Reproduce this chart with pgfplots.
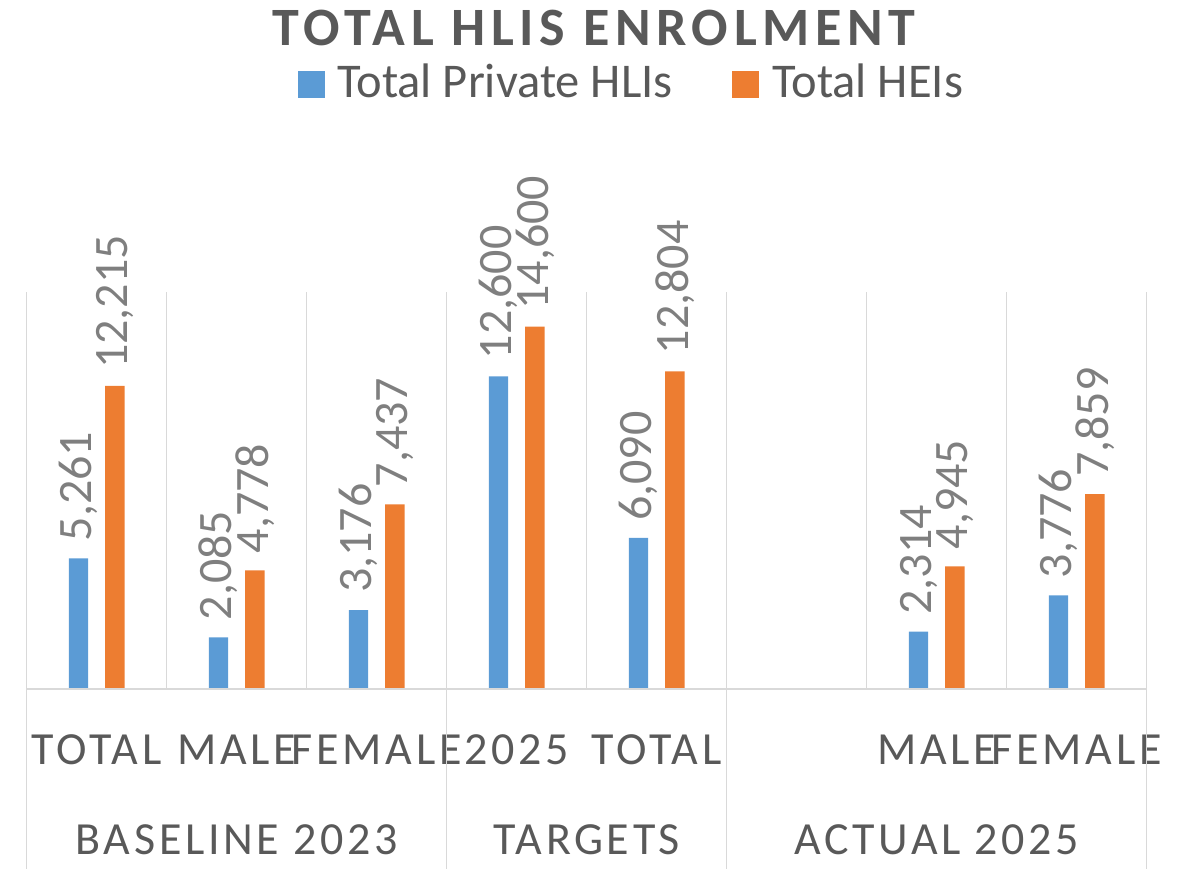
\documentclass[border=0pt]{standalone}
\usepackage{fontspec}
\setmainfont{Carlito}
\newfontfamily\catfont[LetterSpace=8]{Carlito}
\newfontfamily\titlefont[LetterSpace=10.4]{Carlito}
\usepackage{pgfplots}
\pgfplotsset{compat=1.18}
\definecolor{hliblue}{HTML}{5B9BD5}
\definecolor{heiorange}{HTML}{ED7D31}
\definecolor{gridgray}{HTML}{D9D9D9}
\definecolor{labelgray}{HTML}{595959}
\definecolor{datagray}{HTML}{7F7F7F}
\begin{document}
\begin{tikzpicture}[x=1pt,y=1pt]
\useasboundingbox (0,0) rectangle (1185,868);
\begin{axis}[
  at={(26.7pt,179pt)}, anchor=south west,
  scale only axis, width=1120pt, height=397pt,
  xmin=-0.5, xmax=7.5, ymin=0, ymax=16000,
  ybar, bar width=19.4pt,
  axis line style={draw=none},
  ytick=\empty,
  xtick={0,...,7},
  xticklabels={TOTAL,MALE,FEMALE,2025,TOTAL,,MALE,FEMALE},
  minor xtick={-0.5,0.5,1.5,2.5,3.5,4.5,5.5,6.5,7.5},
  xminorgrids, minor grid style={draw=gridgray, line width=1.5pt},
  major tick length=0pt, minor tick length=0pt,
  xticklabel style={font=\catfont\fontsize{46}{52}\selectfont, text=labelgray, anchor=base, yshift=-75pt},
  clip=false,
  nodes near coords,
  every node near coord/.append style={font=\fontsize{48}{55}\selectfont, text=datagray, rotate=90, anchor=west, inner xsep=17pt, inner ysep=0pt},
  /pgf/number format/fixed, /pgf/number format/precision=0, /pgf/number format/1000 sep={,}, /pgf/number format/assume math mode=true,
]
\addplot[fill=hliblue, draw=none, bar shift=-18.2pt] coordinates {(0,5261) (1,2085) (2,3176) (3,12600) (4,6090) (6,2314) (7,3776)};
\addplot[fill=heiorange, draw=none, bar shift=18.2pt] coordinates {(0,12215) (1,4778) (2,7437) (3,14600) (4,12804) (6,4945) (7,7859)};
\draw[gridgray, line width=1.5pt] (axis cs:-0.5,0) -- (axis cs:7.5,0);
\draw[gridgray, line width=1.5pt] (axis cs:-0.5,0) -- (axis cs:-0.5,-7300);
\draw[gridgray, line width=1.5pt] (axis cs:2.5,0) -- (axis cs:2.5,-7300);
\draw[gridgray, line width=1.5pt] (axis cs:4.5,0) -- (axis cs:4.5,-7300);
\draw[gridgray, line width=1.5pt] (axis cs:7.5,0) -- (axis cs:7.5,-7300);
\node[font=\catfont\fontsize{46}{52}\selectfont, text=labelgray, anchor=base, yshift=-165.3pt] at (axis cs:1,0) {BASELINE 2023};
\node[font=\catfont\fontsize{46}{52}\selectfont, text=labelgray, anchor=base, yshift=-165.3pt] at (axis cs:3.5,0) {TARGETS};
\node[font=\catfont\fontsize{46}{52}\selectfont, text=labelgray, anchor=base, yshift=-165.3pt] at (axis cs:6,0) {ACTUAL 2025};
\end{axis}
\node[anchor=base, inner sep=0pt, text=labelgray, font=\titlefont\bfseries\fontsize{54}{60}\selectfont] at (594,822.3) {TOTAL HLIS ENROLMENT};
\fill[hliblue] (298.3,770.3) rectangle (325,797);
\node[anchor=base west, inner sep=0pt, text=labelgray, font=\fontsize{48.5}{55}\selectfont] at (337,770.3) {Total Private HLIs};
\fill[heiorange] (732,770.3) rectangle (759,797);
\node[anchor=base west, inner sep=0pt, text=labelgray, font=\fontsize{48.5}{55}\selectfont] at (772,770.3) {Total HEIs};
\end{tikzpicture}
\end{document}
